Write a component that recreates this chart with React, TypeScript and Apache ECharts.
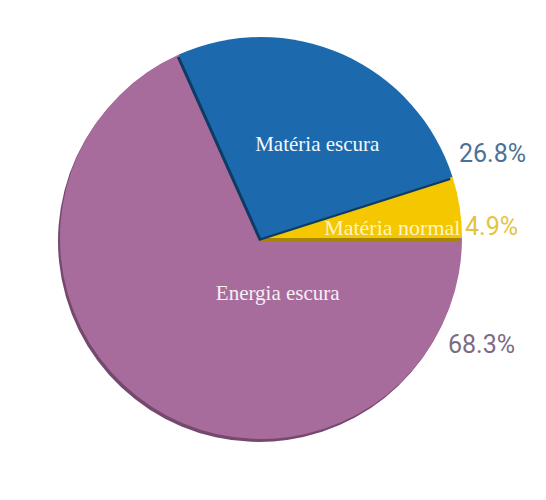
import React, { useEffect, useRef } from "react";
import * as echarts from "echarts";

const names = ["Energia escura", "Matéria escura", "Matéria normal"];
const values = [68.3, 26.8, 4.9];
const fillColors = ["#a76c9c", "#1b6aad", "#f4c703"];
const shadowColors = ["#744a6d", "#0f3a63", "#a88400"];
const insideLabelColors = ["#f7eef6", "#f4f8fc", "#fff4c8"];
const percentColors = ["#7b6b86", "#4d7099", "#e3c43c"];
const drawOrder = [1, 3, 2];
const labelOffsets = [
  [73, -32],
  [14, 0],
  [29, 5],
];
const percentPositions = [
  [448, 344],
  [459, 153],
  [465, 226],
];

export default function App() {
  const ref = useRef<HTMLDivElement>(null);
  useEffect(() => {
    document.body.style.margin = "0";
    const chart = echarts.init(ref.current!, null, { renderer: "svg" });
    const series = names.map((_, k) => ({
      type: "pie",
      z: drawOrder[k],
      center: [261, 238],
      radius: [0, 201],
      startAngle: 0,
      clockwise: true,
      silent: true,
      labelLine: { show: false },
      emphasis: { disabled: true },
      data: names.map((n, i) => ({
        name: n,
        value: values[i],
        itemStyle:
          i === k
            ? {
                color: fillColors[i],
                shadowColor: shadowColors[i],
                shadowBlur: 1,
                shadowOffsetX: -2,
                shadowOffsetY: 3,
                borderWidth: 0,
              }
            : { color: "rgba(0,0,0,0)", borderWidth: 0 },
        label:
          i === k
            ? {
                show: true,
                position: "inside",
                formatter: "{b}",
                color: insideLabelColors[i],
                fontFamily: "Liberation Serif",
                fontSize: i === 2 ? 22 : 21,
                offset: labelOffsets[i],
              }
            : { show: false },
      })),
    }));
    chart.setOption({
      animation: false,
      backgroundColor: "#ffffff",
      series,
      graphic: names.map((_, i) => ({
        type: "text",
        x: percentPositions[i][0],
        y: percentPositions[i][1],
        style: {
          text: values[i].toFixed(1) + "%",
          fill: percentColors[i],
          font: "normal 25px Roboto",
          verticalAlign: "middle",
          align: "left",
        },
      })),
    });
    return () => chart.dispose();
  }, []);
  return <div ref={ref} style={{ width: 546, height: 500 }} />;
}
